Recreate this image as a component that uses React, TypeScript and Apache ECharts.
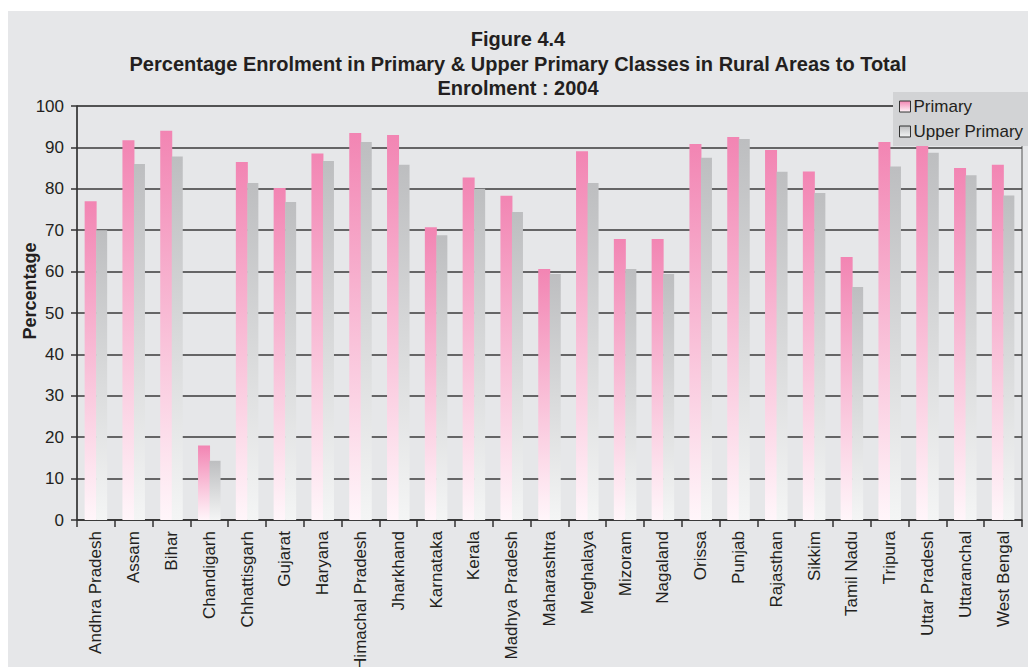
import React, { useEffect, useRef } from "react";
import * as echarts from "echarts";

const categories = [
  "Andhra Pradesh", "Assam", "Bihar", "Chandigarh", "Chhattisgarh", "Gujarat", "Haryana",
  "Himachal Pradesh", "Jharkhand", "Karnataka", "Kerala", "Madhya Pradesh", "Maharashtra",
  "Meghalaya", "Mizoram", "Nagaland", "Orissa", "Punjab", "Rajasthan", "Sikkim",
  "Tamil Nadu", "Tripura", "Uttar Pradesh", "Uttaranchal", "West Bengal",
];
const primary = [
  77.0, 91.7, 94.0, 18.0, 86.5, 80.2, 88.5, 93.5, 93.0, 70.7, 82.7, 78.3, 60.6,
  89.1, 67.9, 67.9, 90.8, 92.5, 89.4, 84.2, 63.5, 91.3, 90.5, 85.0, 85.8,
];
const upperPrimary = [
  70.0, 86.0, 87.8, 14.3, 81.4, 76.8, 86.7, 91.3, 85.8, 68.8, 80.0, 74.4, 59.4,
  81.4, 60.6, 59.4, 87.5, 92.0, 84.1, 79.0, 56.3, 85.4, 88.7, 83.3, 78.4,
];
const seriesNames = ["Primary", "Upper Primary"];
const yAxisName = "Percentage";
const titleLines = [
  "Figure 4.4",
  "Percentage Enrolment in Primary & Upper Primary Classes in Rural Areas to Total",
  "Enrolment : 2004",
];

const pinkGrad = () =>
  new echarts.graphic.LinearGradient(0, 0, 0, 1, [
    { offset: 0, color: "#f285b3" },
    { offset: 1, color: "#fff6fa" },
  ]);
const grayGrad = () =>
  new echarts.graphic.LinearGradient(0, 0, 0, 1, [
    { offset: 0, color: "#bdbec0" },
    { offset: 1, color: "#f4f5f5" },
  ]);

export default function App() {
  const ref = useRef<HTMLDivElement>(null);
  useEffect(() => {
    document.body.style.margin = "0";
    const chart = echarts.init(ref.current!, null, { renderer: "svg" });
    const font = "'Liberation Sans', Arial, sans-serif";
    chart.setOption({
      animation: false,
      backgroundColor: "#ffffff",
      textStyle: { fontFamily: font },
      graphic: [
        {
          type: "rect",
          z: -10,
          silent: true,
          shape: { x: 8, y: 11, width: 1030, height: 670 },
          style: { fill: "#e6e7e9" },
        },
        {
          type: "text",
          x: 30,
          y: 291,
          rotation: Math.PI / 2,
          z: 10,
          style: {
            text: yAxisName,
            fontFamily: font,
            fontSize: 18,
            fontWeight: "bold",
            fill: "#231f20",
            align: "center",
            verticalAlign: "middle",
          },
        },
      ],
      title: {
        text: titleLines.join("\n"),
        left: 513,
        textAlign: "center",
        top: 22,
        textStyle: {
          fontFamily: font,
          fontSize: 20,
          fontWeight: "bold",
          color: "#231f20",
          lineHeight: 24.5,
        },
      },
      legend: {
        orient: "vertical",
        left: 893,
        top: 92,
        backgroundColor: "#d2d3d5",
        padding: [6, 8, 6, 6],
        itemGap: 8,
        itemWidth: 11,
        itemHeight: 11,
        icon: "rect",
        textStyle: { fontFamily: font, fontSize: 17, color: "#231f20", padding: [0, 0, 0, -2] },
        data: [
          { name: seriesNames[0], itemStyle: { color: pinkGrad(), borderColor: "#333", borderWidth: 1 } },
          { name: seriesNames[1], itemStyle: { color: grayGrad(), borderColor: "#333", borderWidth: 1 } },
        ],
      },
      grid: {
        left: 77,
        right: 6,
        top: 106,
        bottom: 147,
        containLabel: false,
        outerBoundsMode: "none",
        show: true,
        borderColor: "#555",
        borderWidth: 1,
      },
      xAxis: {
        type: "category",
        data: categories,
        axisLine: { lineStyle: { color: "#333", width: 1.5 } },
        axisTick: { show: true, length: 7, interval: 0, lineStyle: { color: "#333", width: 1.5 } },
        axisLabel: {
          interval: 0,
          rotate: 90,
          fontSize: 17,
          color: "#231f20",
          margin: 11,
          fontFamily: font,
        },
      },
      yAxis: {
        type: "value",
        min: 0,
        max: 100,
        interval: 10,
        axisLine: { show: true, lineStyle: { color: "#333", width: 1.5 } },
        axisTick: { show: true, length: 6, lineStyle: { color: "#333", width: 1.5 } },
        axisLabel: { fontSize: 17, color: "#231f20", margin: 13, fontFamily: font },
        splitLine: { lineStyle: { color: "#3a3a3a", width: 1.5 } },
      },
      series: [
        {
          name: seriesNames[0],
          type: "bar",
          data: primary,
          barWidth: 12,
          barGap: "-4%",
          itemStyle: { color: pinkGrad() },
        },
        {
          name: seriesNames[1],
          type: "bar",
          data: upperPrimary,
          barWidth: 11,
          itemStyle: { color: grayGrad() },
        },
      ],
    });
    return () => chart.dispose();
  }, []);
  return <div ref={ref} style={{ width: 1028, height: 667 }} />;
}
